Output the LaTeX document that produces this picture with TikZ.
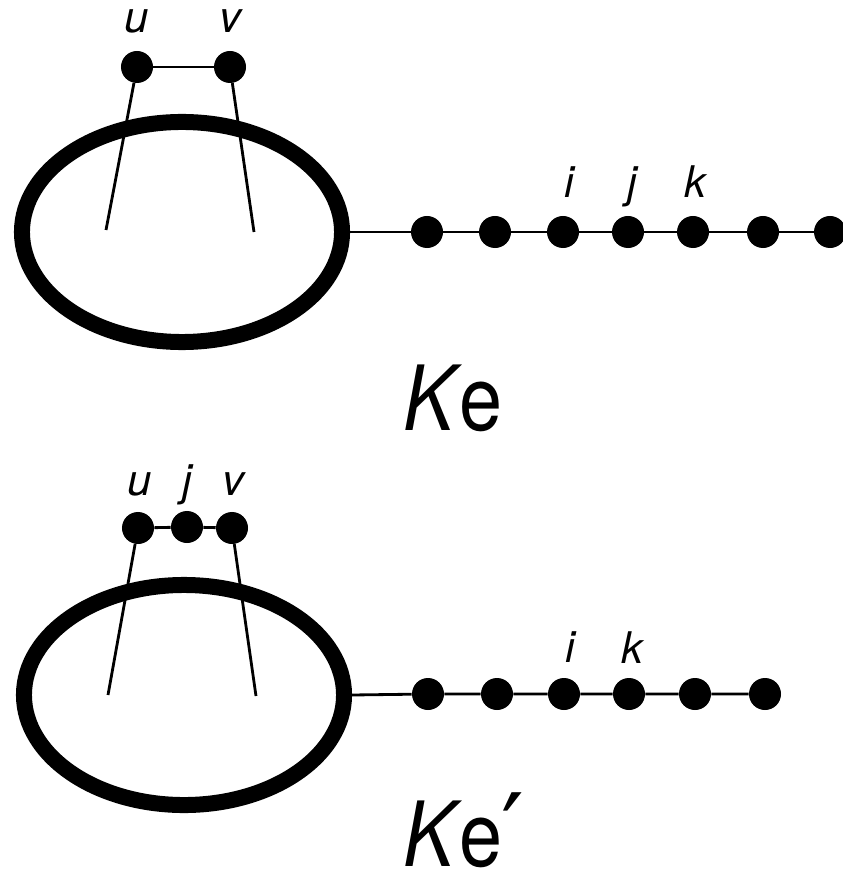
\documentclass[tikz,border=0pt]{standalone}
\usepackage{fontspec}
\setmainfont{TeX Gyre Heros}
\newfontfamily\primefont{DejaVu Sans}
\usetikzlibrary{positioning, shapes.geometric}
\tikzset{
dot/.style={circle, fill=black, inner sep=0pt, minimum size=0.8cm},
ring/.style={ellipse, draw, line width=0.4cm, inner sep=0pt, minimum width=8cm, minimum height=5.5cm},
lbl/.style={inner sep=0pt, anchor=base, font=\fontsize{31}{32}\selectfont\itshape},
title/.style={inner sep=0pt, anchor=base west, font=\fontsize{64}{66}\selectfont},
edge/.style={line width=2pt},
}
\newcommand{\kename}[1]{\scalebox{0.86}[1]{\textit{K}\kern-2pt e}#1}

\begin{document}
\begin{tikzpicture}[x=0.025cm, y=-0.025cm]
    \useasboundingbox (0,0) rectangle (842,878);

    %top graph
    \node[ring] (r1) at (182,232) {};
    \node[dot] (u1) at (137,67) {};
    \node[dot] (v1) at (230,67) {};
    \coordinate (u1e) at (106,230);
    \coordinate (v1e) at (254,232);
    \foreach \x [count=\n] in {427,495,563,628,693,763,830}
        \node[dot] (p\n) at (\x,232) {};

    \draw[edge] (u1)--(v1);
    \draw[edge] (u1)--(u1e);
    \draw[edge] (v1)--(v1e);
    \draw[edge] (r1.east)--(p1)--(p2)--(p3)--(p4)--(p5)--(p6)--(p7);

    %lables
    \node[lbl] (lu1) at (137,33) {u};
    \node[lbl] (lv1) at (230,33) {v};
    \node[lbl] (li1) at (569,198) {i};
    \node[lbl] (lj1) at (632,198) {j};
    \node[lbl] (lk1) at (695,198) {k};
    \node[title] (t1) at (403,430) {\kename{}};

    %bottom graph
    \node[ring] (r2) at (184,695) {};
    \node[dot] (u2) at (138,528) {};
    \node[dot] (j2) at (187,527) {};
    \node[dot] (v2) at (232,528) {};
    \coordinate (u2e) at (108,695);
    \coordinate (v2e) at (256,696);
    \foreach \x [count=\n] in {428,497,564,629,695,765}
        \node[dot] (q\n) at (\x,694) {};

    \draw[edge] (u2)--(j2)--(v2);
    \draw[edge] (u2)--(u2e);
    \draw[edge] (v2)--(v2e);
    \draw[edge] (r2.east)--(q1)--(q2)--(q3)--(q4)--(q5)--(q6);

    %lables
    \node[lbl] (lu2) at (140,495) {u};
    \node[lbl] (lj2) at (187,495) {j};
    \node[lbl] (lv2) at (233,495) {v};
    \node[lbl] (li2) at (570,662) {i};
    \node[lbl] (lk2) at (632,663) {k};
    \node[title] (t2) at (403,866) {\kename{\kern-1pt\smash{\primefont\fontsize{72}{72}\selectfont ′}}};
\end{tikzpicture}
\end{document}
